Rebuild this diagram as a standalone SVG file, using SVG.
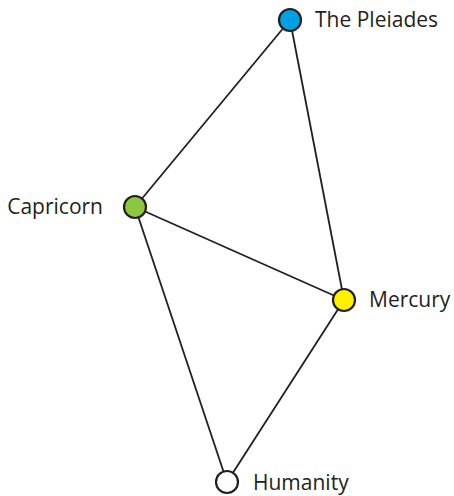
<svg xmlns="http://www.w3.org/2000/svg" width="454" height="496" viewBox="0 0 454 496">
<style>
.edge{stroke:#231f20;stroke-width:1.8;fill:none}
.node{stroke:#231f20;stroke-width:2.2}
.lbl{font-family:"Open Sans","Noto Sans",sans-serif;font-size:21px;fill:#231f20}
</style>
<rect width="454" height="496" fill="#fff"/>
<g id="connectors">
<line class="edge" x1="290" y1="20" x2="135" y2="207"/>
<line class="edge" x1="290" y1="20" x2="344" y2="300"/>
<line class="edge" x1="135" y1="207" x2="344" y2="300"/>
<line class="edge" x1="135" y1="207" x2="227" y2="482"/>
<line class="edge" x1="344" y1="300" x2="227" y2="482"/>
</g>
<g id="pleiades"><circle class="node" cx="290" cy="20" r="11" fill="#00a0e3"/><text class="lbl" x="315" y="27">The Pleiades</text></g>
<g id="capricorn"><circle class="node" cx="135" cy="207" r="11" fill="#8dc63f"/><text class="lbl" x="103" y="214" text-anchor="end">Capricorn</text></g>
<g id="mercury"><circle class="node" cx="344" cy="300" r="11" fill="#fff200"/><text class="lbl" x="369" y="307">Mercury</text></g>
<g id="humanity"><circle class="node" cx="227" cy="482" r="11" fill="#fff"/><text class="lbl" x="253" y="490">Humanity</text></g>
</svg>
